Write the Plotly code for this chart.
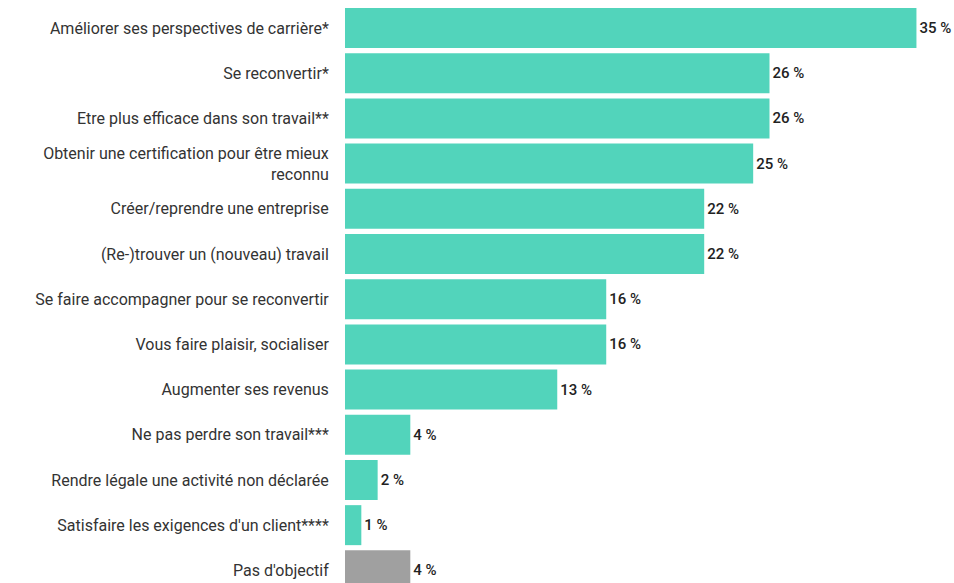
import plotly.graph_objects as go

categories = [
    "Améliorer ses perspectives de carrière*",
    "Se reconvertir*",
    "Etre plus efficace dans son travail**",
    "Obtenir une certification pour être mieux<br>reconnu",
    "Créer/reprendre une entreprise",
    "(Re-)trouver un (nouveau) travail",
    "Se faire accompagner pour se reconvertir",
    "Vous faire plaisir, socialiser",
    "Augmenter ses revenus",
    "Ne pas perdre son travail***",
    "Rendre légale une activité non déclarée",
    "Satisfaire les exigences d'un client****",
    "Pas d'objectif",
]
values = [35, 26, 26, 25, 22, 22, 16, 16, 13, 4, 2, 1, 4]
labels = [f"{v} %" for v in values]
colors = ["#52d4bb"] * 12 + ["#a0a0a0"]

fig = go.Figure(go.Bar(
    x=values, y=categories, orientation="h",
    marker=dict(color=colors, line=dict(width=0)),
    text=labels, textposition="outside", cliponaxis=False,
    textfont=dict(family="Roboto", size=15, color="#222222", weight=500),
    hoverinfo="skip",
))
fig.update_layout(
    width=954, height=583,
    margin=dict(l=345, r=0, t=0, b=0),
    paper_bgcolor="white", plot_bgcolor="white",
    bargap=0.115, showlegend=False,
    font=dict(family="Roboto", size=16, color="#333333"),
)
fig.update_xaxes(range=[0, 37.3], visible=False)
fig.update_yaxes(range=[12.28, -0.62], showgrid=False, zeroline=False,
                 ticks="outside", ticklen=12, tickcolor="rgba(0,0,0,0)",
                 tickfont=dict(family="Roboto", size=16, color="#333333"))
fig.write_html("out.html")
